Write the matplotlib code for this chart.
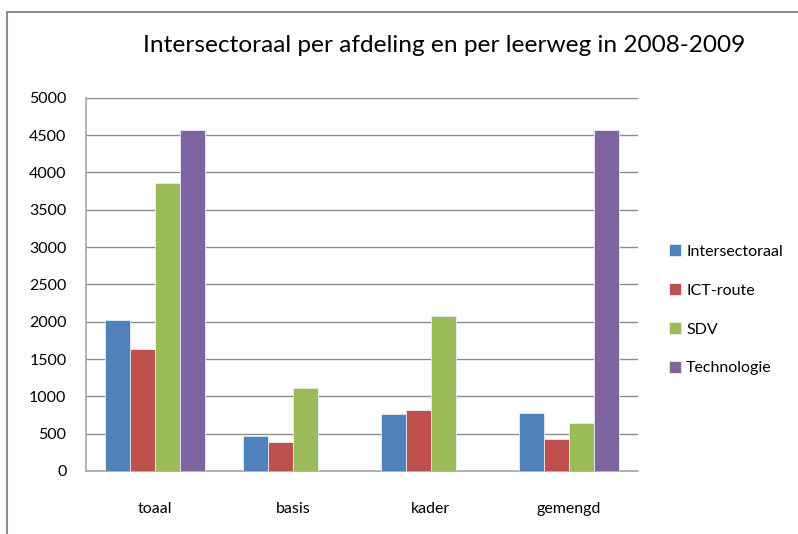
import matplotlib.pyplot as plt
import numpy as np
from matplotlib.lines import Line2D

# chart data
categories = ['toaal', 'basis', 'kader', 'gemengd']
intersectoraal = [2020, 465, 765, 780]
ict_route = [1635, 385, 815, 435]
sdv = [3860, 1110, 2075, 640]
technologie = [4570, 0, 0, 4570]

series_names = ['Intersectoraal', 'ICT-route', 'SDV', 'Technologie']
colors = ['#4F81BD', '#C0504D', '#9BBB59', '#8064A2']
y_ticks = [0, 500, 1000, 1500, 2000, 2500, 3000, 3500, 4000, 4500, 5000]

plt.rcParams['font.family'] = ['Lato', 'DejaVu Sans']

fig = plt.figure(figsize=(7.98, 5.34), dpi=100)
ax = fig.add_axes([86 / 798, 1 - 471 / 534, (638 - 86) / 798, (471 - 97.7) / 534])

x = np.arange(len(categories))
width = 25 / 138
series = [intersectoraal, ict_route, sdv, technologie]
for i, (vals, name, col) in enumerate(zip(series, series_names, colors)):
    offs = (i - 1.5) * width
    ax.bar(x + offs, vals, width, color=col, edgecolor='#e8ecf4', linewidth=0.6,
           label=name, zorder=3)

ax.set_xlim(-0.5, len(categories) - 0.5)
ax.set_ylim(0, 5000)
ax.set_yticks(y_ticks)
ax.set_yticklabels([str(t) for t in y_ticks], fontsize=11.5)
ax.set_xticks(x)
ax.set_xticklabels(categories, fontsize=11.5)
ax.tick_params(axis='y', length=0, pad=14)
ax.tick_params(axis='x', length=0, pad=22)

ax.yaxis.grid(True, color='#8c8c8c', linewidth=1.0, zorder=0)
ax.set_axisbelow(True)
for side in ['top', 'right']:
    ax.spines[side].set_visible(False)
ax.spines['left'].set_color('#a6a6a6')
ax.spines['bottom'].set_color('#a6a6a6')
ax.spines['left'].set_linewidth(1.2)
ax.spines['bottom'].set_linewidth(1.2)

fig.text(444 / 798, 1 - 46 / 534, 'Intersectoraal per afdeling en per leerweg in 2008-2009',
         ha='center', va='center', fontsize=17.6)

leg = ax.legend(loc='upper left', bbox_to_anchor=(663 / 798, 1 - 238 / 534),
                bbox_transform=fig.transFigure, frameon=False,
                prop={'size': 11.5},
                handlelength=0.75, handleheight=0.75, handletextpad=0.3,
                labelspacing=1.53, borderaxespad=0)

# outer chart border (cropped on the right and bottom)
fig.add_artist(Line2D([7 / 798, 7 / 798, 1.0], [0.0, 1 - 12 / 534, 1 - 12 / 534],
                      transform=fig.transFigure, color='#8c8c8c', linewidth=1.5))

fig.savefig('out.png', dpi=100)
